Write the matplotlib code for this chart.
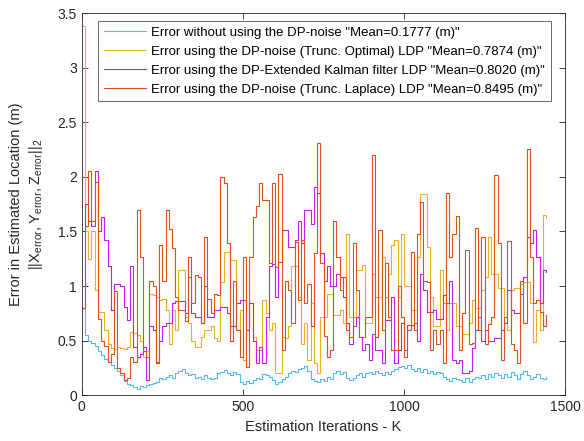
import matplotlib
matplotlib.use("Agg")
import matplotlib.pyplot as plt
import numpy as np

plt.rcParams['font.family'] = ['Liberation Sans', 'DejaVu Sans']
plt.rcParams['mathtext.default'] = 'regular'

iterations = list(range(0, 1441, 10))

err_no_dp = [0.80, 0.55, 0.50, 0.48, 0.45, 0.40, 0.37, 0.33, 0.30, 0.28,
             0.25, 0.22, 0.18, 0.13, 0.10, 0.09, 0.07, 0.06, 0.08, 0.07,
             0.09, 0.10, 0.11, 0.12, 0.16, 0.15, 0.17, 0.18, 0.16, 0.20,
             0.22, 0.24, 0.20, 0.18, 0.19, 0.16, 0.17, 0.15, 0.18, 0.16,
             0.15, 0.16, 0.20, 0.21, 0.23, 0.20, 0.18, 0.21, 0.19, 0.12,
             0.10, 0.13, 0.11, 0.14, 0.16, 0.15, 0.19, 0.18, 0.17, 0.14,
             0.10, 0.12, 0.15, 0.17, 0.20, 0.22, 0.21, 0.24, 0.25, 0.27,
             0.22, 0.15, 0.13, 0.12, 0.15, 0.13, 0.17, 0.15, 0.20, 0.22,
             0.19, 0.21, 0.16, 0.14, 0.16, 0.18, 0.20, 0.17, 0.20, 0.21,
             0.19, 0.22, 0.20, 0.18, 0.21, 0.19, 0.22, 0.24, 0.26, 0.27,
             0.25, 0.28, 0.24, 0.22, 0.25, 0.21, 0.24, 0.20, 0.22, 0.19,
             0.21, 0.20, 0.17, 0.15, 0.13, 0.16, 0.15, 0.14, 0.12, 0.16,
             0.12, 0.15, 0.17, 0.16, 0.18, 0.15, 0.19, 0.17, 0.20, 0.18,
             0.16, 0.19, 0.17, 0.21, 0.18, 0.15, 0.19, 0.22, 0.18, 0.15,
             0.17, 0.19, 0.16, 0.15, 0.17]

err_optimal = [3.38, 1.50, 1.25, 1.50, 0.96, 0.76, 0.76, 0.60, 0.47, 0.43,
               0.42, 0.44, 0.43, 0.42, 0.44, 0.58, 0.57, 0.55, 0.50, 0.35,
               0.40, 0.93, 0.92, 0.90, 0.87, 0.88, 0.78, 0.47, 0.78, 0.60,
               1.15, 1.15, 0.72, 0.66, 0.50, 0.44, 0.44, 0.53, 0.60, 0.60,
               0.63, 0.52, 0.50, 1.04, 1.31, 1.31, 1.24, 1.24, 0.60, 0.78,
               0.32, 0.60, 0.84, 0.53, 0.41, 0.41, 0.87, 0.75, 0.60, 0.66,
               0.20, 0.20, 0.53, 0.52, 0.63, 1.18, 1.18, 0.90, 0.47, 0.66,
               0.32, 0.84, 0.29, 0.20, 0.72, 0.72, 0.93, 0.93, 0.73, 0.73,
               0.78, 0.66, 1.48, 0.72, 0.72, 1.15, 1.15, 1.19, 0.66, 0.66,
               1.11, 0.90, 0.90, 1.27, 0.90, 1.11, 1.38, 1.42, 0.90, 1.48,
               1.00, 1.00, 0.78, 0.78, 1.27, 1.84, 1.84, 1.36, 0.90, 0.63,
               0.63, 1.15, 0.84, 0.60, 0.84, 0.84, 0.63, 0.63, 0.56, 0.56,
               0.66, 0.87, 0.80, 0.80, 0.96, 1.08, 1.45, 1.11, 1.11, 0.98,
               0.98, 0.66, 0.60, 0.96, 0.98, 0.98, 1.02, 1.04, 1.04, 0.84,
               0.49, 0.78, 0.60, 1.65, 1.62]

err_ekf = [0.80, 1.75, 1.60, 1.55, 2.05, 1.50, 1.63, 1.42, 1.18, 0.78,
           1.02, 1.02, 1.00, 0.81, 0.69, 1.18, 0.44, 0.35, 0.38, 0.44,
           0.14, 0.63, 0.60, 0.29, 0.50, 0.63, 0.66, 0.66, 0.84, 0.86,
           0.86, 0.86, 0.75, 1.08, 0.75, 0.72, 0.72, 0.66, 1.00, 0.72,
           0.72, 0.78, 0.78, 0.81, 0.81, 0.75, 0.63, 0.63, 0.84, 0.87,
           0.87, 0.60, 0.84, 0.50, 0.29, 0.44, 0.29, 0.72, 1.18, 1.20,
           0.90, 1.22, 1.51, 1.51, 1.36, 1.36, 1.42, 1.60, 1.39, 1.70,
           1.70, 1.57, 1.91, 1.85, 1.30, 1.05, 1.18, 1.00, 1.00, 1.11,
           1.08, 0.90, 0.66, 0.47, 0.63, 0.72, 0.53, 0.41, 0.47, 0.32,
           0.56, 0.41, 0.41, 0.29, 0.69, 0.69, 0.90, 0.29, 0.41, 0.66,
           0.41, 0.64, 0.64, 0.66, 0.50, 1.11, 0.96, 0.76, 0.76, 0.78,
           0.70, 0.70, 0.92, 0.84, 1.05, 0.32, 0.29, 0.32, 0.20, 0.20,
           0.22, 0.43, 0.60, 0.72, 0.50, 0.60, 0.50, 0.50, 0.52, 0.52,
           0.60, 0.66, 0.96, 0.78, 0.75, 0.75, 0.93, 1.08, 1.45, 1.39,
           1.51, 1.27, 0.84, 1.15, 1.13]

err_laplace = [0.80, 1.55, 2.05, 1.60, 1.95, 0.70, 0.50, 0.45, 0.30, 0.38,
               0.95, 0.25, 0.20, 0.14, 0.16, 0.35, 0.30, 1.70, 1.27, 0.40,
               0.35, 1.05, 1.00, 0.30, 1.38, 1.05, 1.70, 1.52, 1.35, 0.90,
               0.78, 0.78, 0.68, 1.27, 0.84, 1.10, 1.08, 0.66, 1.45, 0.88,
               0.75, 0.93, 0.92, 2.00, 1.94, 1.39, 0.50, 1.05, 0.60, 0.35,
               1.27, 0.26, 1.27, 1.63, 1.73, 1.94, 1.79, 1.79, 1.21, 1.94,
               1.17, 2.03, 0.41, 1.05, 0.96, 0.66, 1.40, 0.87, 1.42, 0.84,
               1.02, 0.63, 1.30, 2.31, 1.21, 0.54, 0.35, 0.41, 1.60, 1.27,
               0.96, 1.08, 0.60, 0.53, 1.39, 0.96, 0.53, 0.53, 0.72, 0.72,
               2.20, 0.53, 1.51, 0.60, 1.21, 0.72, 0.41, 0.41, 1.00, 0.72,
               0.35, 0.60, 1.31, 0.60, 1.48, 1.77, 1.05, 1.04, 0.41, 0.60,
               0.47, 0.60, 0.29, 1.85, 1.27, 1.48, 1.64, 0.41, 0.75, 1.33,
               0.47, 0.48, 1.53, 0.60, 1.45, 0.47, 0.65, 0.72, 2.02, 1.39,
               0.32, 0.72, 1.41, 0.47, 0.41, 0.29, 1.05, 0.66, 2.26, 1.27,
               0.84, 0.87, 0.76, 0.63, 0.73]

labels = ['Error without using the DP-noise "Mean=0.1777 (m)"',
          'Error using the DP-noise (Trunc. Optimal) LDP "Mean=0.7874 (m)"',
          'Error using the DP-Extended Kalman filter LDP "Mean=0.8020 (m)"',
          'Error using the DP-noise (Trunc. Laplace) LDP "Mean=0.8495 (m)"']
colors = ['#4DBEEE', '#EDB120', '#C21DF5', '#D95319']
series = [err_no_dp, err_optimal, err_ekf, err_laplace]

fig = plt.figure(figsize=(5.84, 4.41), dpi=100)
ax = fig.add_axes([0.140, 0.104, 0.828, 0.866])

for vals, lab, col in zip(series, labels, colors):
    ax.plot(iterations, vals, drawstyle='steps-post', color=col, lw=0.8, label=lab)

ax.set_xlim(0, 1500)
ax.set_ylim(0, 3.5)
ax.set_xticks([0, 500, 1000, 1500])
ax.set_yticks(np.arange(0, 3.51, 0.5))
ax.set_yticklabels(['0', '0.5', '1', '1.5', '2', '2.5', '3', '3.5'])
ax.tick_params(direction='in', length=4, width=0.6, labelsize=10,
               colors='#262626', top=True, right=True)
for sp in ax.spines.values():
    sp.set_color('#262626')
    sp.set_linewidth(0.6)

ax.set_xlabel('Estimation Iterations - K', fontsize=10.5, color='#262626', labelpad=4)
ax.set_ylabel('Error in Estimated Location (m)\n'
              r'$||X_{error},Y_{error},Z_{error}||_2$',
              fontsize=10.5, color='#262626', labelpad=9, linespacing=1.3)

leg = ax.legend(loc='upper right', bbox_to_anchor=(0.97, 0.98), fontsize=9.5,
                frameon=True, fancybox=False, edgecolor='#262626',
                handlelength=3.2, handletextpad=0.4, borderpad=0.45,
                labelspacing=0.5, borderaxespad=0.0)
leg.get_frame().set_linewidth(0.6)

fig.savefig('out.png', dpi=100)
